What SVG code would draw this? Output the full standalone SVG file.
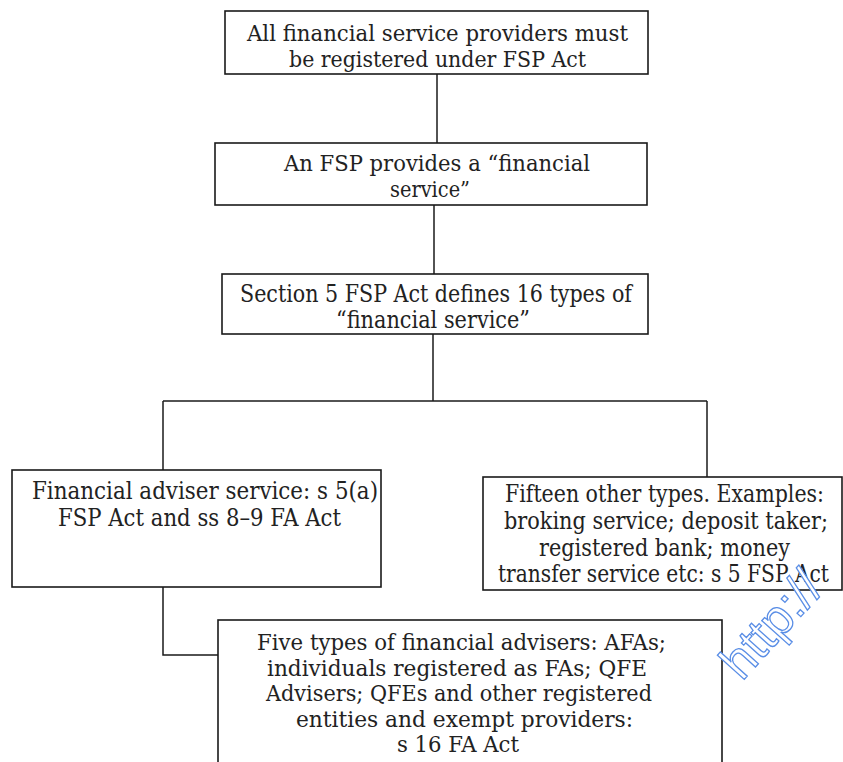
<svg xmlns="http://www.w3.org/2000/svg" width="843" height="762" viewBox="0 0 843 762">
<style>
.box{fill:#fff;stroke:#1a1a1a;stroke-width:1.6}
.con{fill:none;stroke:#1a1a1a;stroke-width:1.5}
.t{font-size:23px;fill:#222}
.c{font-size:24px;fill:#222}
.wm{font-size:50px;fill:#fff;stroke:#5a8ee6;stroke-width:1.3}
</style>
<rect width="843" height="762" fill="#fff"/>
<g id="connectors">
<path class="con" d="M437 74 V143"/>
<path class="con" d="M434 205 V274"/>
<path class="con" d="M433 334 V401"/>
<path class="con" d="M163 401 H707"/>
<path class="con" d="M163 401 V470"/>
<path class="con" d="M707 401 V477"/>
<path class="con" d="M163 587 V655 H218"/>
</g>
<g font-family="DejaVu Serif, serif">
<g id="n1">
<rect class="box" x="225" y="11" width="423" height="63"/>
<text class="t" x="247" y="41" textLength="381" lengthAdjust="spacingAndGlyphs">All financial service providers must</text>
<text class="t" x="289" y="67" textLength="297" lengthAdjust="spacingAndGlyphs">be registered under FSP Act</text>
</g>
<g id="n2">
<rect class="box" x="215" y="143" width="432" height="62"/>
<text class="t" x="284" y="171" textLength="306" lengthAdjust="spacingAndGlyphs">An FSP provides a “financial</text>
<text class="t" x="390" y="197" textLength="80" lengthAdjust="spacingAndGlyphs">service”</text>
</g>
<g id="n3">
<rect class="box" x="222" y="274" width="426" height="60"/>
<text class="c" x="240" y="302" textLength="392" lengthAdjust="spacingAndGlyphs">Section 5 FSP Act defines 16 types of</text>
<text class="c" x="336" y="328" textLength="194" lengthAdjust="spacingAndGlyphs">“financial service”</text>
</g>
<g id="n4">
<rect class="box" x="12" y="470" width="369" height="117"/>
<text class="c" x="32" y="499" textLength="346" lengthAdjust="spacingAndGlyphs">Financial adviser service: s 5(a)</text>
<text class="c" x="58" y="526" textLength="283" lengthAdjust="spacingAndGlyphs">FSP Act and ss 8–9 FA Act</text>
</g>
<g id="n5">
<rect class="box" x="483" y="477" width="359" height="113"/>
<text class="c" x="505" y="502" textLength="319" lengthAdjust="spacingAndGlyphs">Fifteen other types. Examples:</text>
<text class="c" x="504" y="529" textLength="324" lengthAdjust="spacingAndGlyphs">broking service; deposit taker;</text>
<text class="c" x="539" y="556" textLength="251" lengthAdjust="spacingAndGlyphs">registered bank; money</text>
<text class="c" x="498" y="582" textLength="331" lengthAdjust="spacingAndGlyphs">transfer service etc: s 5 FSP Act</text>
</g>
<g id="n6">
<rect class="box" x="218" y="620" width="504" height="145"/>
<text class="t" x="257" y="650" textLength="409" lengthAdjust="spacingAndGlyphs">Five types of financial advisers: AFAs;</text>
<text class="t" x="267" y="676" textLength="380" lengthAdjust="spacingAndGlyphs">individuals registered as FAs; QFE</text>
<text class="t" x="266" y="701" textLength="386" lengthAdjust="spacingAndGlyphs">Advisers; QFEs and other registered</text>
<text class="t" x="296" y="727" textLength="337" lengthAdjust="spacingAndGlyphs">entities and exempt providers:</text>
<text class="t" x="397" y="752" textLength="122" lengthAdjust="spacingAndGlyphs">s 16 FA Act</text>
</g>
</g>
<text class="wm" font-family="Liberation Sans, Arial, sans-serif" transform="translate(742,682) rotate(-48)">http://</text>
</svg>
